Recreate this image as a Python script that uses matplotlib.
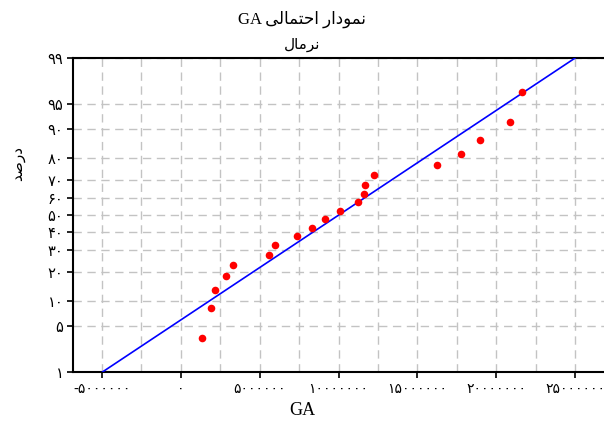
'''
Normal probability plot of GA (Persian labels).
'''

from statistics import NormalDist
import numpy as np
import matplotlib
matplotlib.use("Agg")
import matplotlib.pyplot as plt
from matplotlib.ticker import MultipleLocator, FixedLocator


# values
ga_values = [1340000, 1910000, 2170000, 2860000, 3310000, 5590000, 5970000,
             7370000, 8320000, 9140000, 10090000, 11230000, 11610000, 11680000,
             12250000, 16240000, 17770000, 18970000, 20870000, 21630000]
percents = [3.4, 8.3, 13.2, 18.1, 23.0, 27.9, 32.8, 37.7, 42.6, 47.5,
            52.5, 57.4, 62.3, 67.2, 72.1, 77.0, 81.9, 86.8, 91.7, 96.6]
y_ticks = [1, 5, 10, 20, 30, 40, 50, 60, 70, 80, 90, 95, 99]
x_ticks = [-5000000, 0, 5000000, 10000000, 15000000, 20000000, 25000000]

# Arabic text written with presentation forms in visual (left to right) order
title_1 = "GA \uFEF0\uFEDF\uFE8E\uFEE4\uFE98\uFEA3\uFE8D \uFEAD\uFE8D\uFEA9\uFEEE\uFEE4\uFEE7"
title_2 = "\uFEDD\uFE8E\uFEE3\uFEAE\uFEE7"
y_title = "\uFEAA\uFEBB\uFEAD\uFEA9"

FA_DIGITS = str.maketrans("0123456789", "۰۱۲۳۴۵۶۷۸۹")


def fa(n):
    return str(n).translate(FA_DIGITS)


nd = NormalDist()
_inv = np.vectorize(lambda v: nd.inv_cdf(v / 100.0), otypes=[float])
_cdf = np.vectorize(lambda v: nd.cdf(v) * 100.0, otypes=[float])


def to_z(p):
    p = np.clip(np.asarray(p, dtype=float), 1e-6, 100 - 1e-6)
    return _inv(p)


def from_z(z):
    return _cdf(np.asarray(z, dtype=float))


fig = plt.figure(figsize=(6.04, 4.30), dpi=100)
ax = fig.add_axes([0.121, 0.135, 0.879, 0.730])
ax.set_yscale("function", functions=(to_z, from_z))

# fitted normal line from 1% to 99%
mean = np.mean(ga_values)
sd = np.std(ga_values, ddof=1)
line_p = np.array([1.0, 99.0])
line_x = mean + sd * np.array([nd.inv_cdf(p / 100) for p in line_p])
ax.plot(line_x, line_p, color="#0000ff", lw=1.2, zorder=3)

ax.scatter(ga_values, percents, s=30, color="#ff0000", zorder=4, linewidths=0)

ax.set_xlim(-6840000, 26840000)
ax.set_ylim(1, 99)

ax.xaxis.set_major_locator(FixedLocator(x_ticks))
ax.xaxis.set_minor_locator(MultipleLocator(2500000))
ax.set_xticklabels([("-" + fa(abs(v))) if v < 0 else fa(v) for v in x_ticks],
                   fontsize=10, family="DejaVu Sans")
ax.yaxis.set_major_locator(FixedLocator(y_ticks))
ax.yaxis.set_minor_locator(FixedLocator([]))
ax.set_yticklabels([fa(v) for v in y_ticks], fontsize=10.5, family="DejaVu Sans")

ax.tick_params(axis="both", which="major", direction="out", length=4, width=1.2, pad=3)
ax.tick_params(axis="x", which="minor", length=0)

grid_style = dict(color="#c3c3c3", linestyle=(0, (6, 4)), linewidth=1.0)
ax.grid(True, axis="x", which="both", **grid_style)
ax.grid(True, axis="y", which="major", **grid_style)
ax.set_axisbelow(True)

for side in ["left", "bottom", "top"]:
    ax.spines[side].set_linewidth(1.5)
ax.spines["right"].set_visible(False)

fig.text(0.5, 0.955, title_1, ha="center", va="center", fontsize=12,
         family=["Liberation Serif", "DejaVu Sans"])
fig.text(0.5, 0.895, title_2, ha="center", va="center", fontsize=11,
         family=["Liberation Serif", "DejaVu Sans"])
fig.text(0.5, 0.045, "GA", ha="center", va="center", fontsize=13,
         family="Liberation Serif")
fig.text(0.03, 0.62, y_title, ha="center", va="center", rotation=90,
         fontsize=11, family="DejaVu Sans")

fig.savefig("out.png", dpi=100)
